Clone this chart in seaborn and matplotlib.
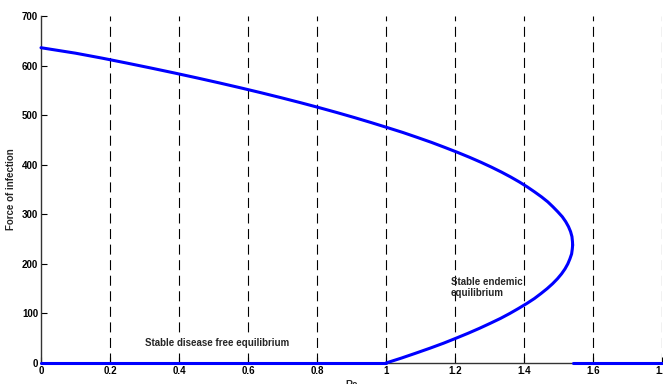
import matplotlib
matplotlib.use("Agg")
import matplotlib.pyplot as plt
import seaborn as sns
import pandas as pd

# Backward bifurcation diagram: force of infection against Re
# Endemic branch, upper part (from Re = 0 to the turning point)
force_upper = [636, 625, 615, 605, 595, 585, 575, 565, 555, 545, 535, 525,
               515, 505, 495, 485, 474, 465, 455, 445, 435, 425, 415, 405,
               395, 385, 375, 365, 355, 345, 335, 325, 315, 305, 295, 285,
               275, 265, 255, 245, 238]
re_upper = [0.0, 0.100, 0.177, 0.249, 0.319, 0.387, 0.453, 0.517, 0.579,
            0.639, 0.697, 0.753, 0.807, 0.859, 0.909, 0.957, 1.008, 1.049,
            1.091, 1.132, 1.170, 1.207, 1.242, 1.275, 1.306, 1.335, 1.362,
            1.387, 1.410, 1.431, 1.451, 1.469, 1.484, 1.498, 1.511, 1.521,
            1.529, 1.535, 1.539, 1.5405, 1.541]

# Endemic branch, lower part (from the turning point down to Re = 1)
force_lower = [238, 230, 220, 210, 200, 190, 180, 170, 160, 150, 140, 130,
               120, 110, 100, 90, 80, 70, 60, 50, 40, 30, 20, 10, 0]
re_lower = [1.541, 1.540, 1.538, 1.533, 1.527, 1.519, 1.509, 1.497, 1.483,
            1.467, 1.449, 1.430, 1.408, 1.384, 1.359, 1.332, 1.302, 1.271,
            1.238, 1.203, 1.167, 1.128, 1.087, 1.045, 1.0]

# Disease free equilibrium segments drawn at zero force of infection
re_dfe_left = [0.0, 1.0]
force_dfe_left = [0, 0]
re_dfe_right = [1.541, 1.8]
force_dfe_right = [0, 0]

x_ticks = [0, 0.2, 0.4, 0.6, 0.8, 1, 1.2, 1.4, 1.6, 1.8]
x_tick_labels = ["0", "0.2", "0.4", "0.6", "0.8", "1", "1.2", "1.4", "1.6", "1.8"]
y_ticks = [0, 100, 200, 300, 400, 500, 600, 700]

sns.set_style("white")
plt.rcParams["font.family"] = ["Liberation Sans", "DejaVu Sans"]
plt.rcParams["font.weight"] = "bold"

fig = plt.figure(figsize=(6.63, 3.84), dpi=100)
ax = fig.add_axes([41 / 663, 1 - 363 / 384, 621 / 663, 347 / 384])

blue = "#0000ff"
segments = [
    (re_upper, force_upper),
    (re_lower, force_lower),
    (re_dfe_left, force_dfe_left),
    (re_dfe_right, force_dfe_right),
]
for xs, ys in segments:
    df = pd.DataFrame({"Re": xs, "force": ys})
    sns.lineplot(data=df, x="Re", y="force", sort=False, estimator=None,
                 color=blue, linewidth=2.2, ax=ax, zorder=5, clip_on=False)

ax.set_xlim(0, 1.8)
ax.set_ylim(0, 700)
ax.set_xticks(x_ticks)
ax.set_xticklabels(x_tick_labels)
ax.set_yticks(y_ticks)

# dashed vertical grid lines at the x ticks
for xv in x_ticks[1:]:
    ax.axvline(xv, color="black", linestyle=(0, (9, 5)), linewidth=0.8,
               zorder=1)

for side in ["top", "right"]:
    ax.spines[side].set_visible(False)
for side in ["left", "bottom"]:
    ax.spines[side].set_color("#333333")
    ax.spines[side].set_linewidth(1.0)

ax.tick_params(axis="both", direction="in", length=4, width=0.8,
               labelsize=7, pad=2, colors="black")
ax.tick_params(axis="y", left=True)
ax.tick_params(axis="x", bottom=True)

ax.set_xlabel("Re", fontsize=7, fontweight="bold", labelpad=3)
ax.set_ylabel("Force of infection", fontsize=7, fontweight="bold", labelpad=4)

ax.text(0.301, 40, "Stable disease free equilibrium", fontsize=7,
        fontweight="bold", ha="left", va="center", zorder=6,
        bbox=dict(facecolor="white", edgecolor="none", pad=1.5))
ax.text(1.188, 173, "Stable endemic\nequilibrium", fontsize=7,
        fontweight="bold", ha="left", va="top", linespacing=1.15, zorder=6)

fig.savefig("out.png", dpi=100)
